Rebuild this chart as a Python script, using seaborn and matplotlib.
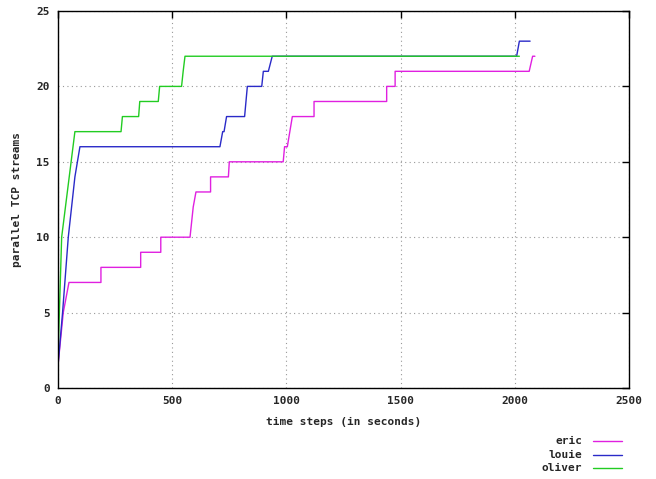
import pandas as pd
import matplotlib
matplotlib.use("Agg")
import matplotlib.pyplot as plt
import seaborn as sns

# valeurs (temps en secondes, nombre de flux TCP)
eric_t = [0, 23, 48, 188, 188, 362, 362, 450, 450, 578, 592, 604, 668, 668, 746, 750,
          986, 992, 1004, 1026, 1121, 1121, 1439, 1439, 1476, 1476, 2063, 2078, 2088]
eric_n = [1.5, 5, 7, 7, 8, 8, 9, 9, 10, 10, 12, 13, 13, 14, 14, 15,
          15, 16, 16, 18, 18, 19, 19, 20, 20, 21, 21, 22, 22]

louie_t = [0, 20, 45, 74, 96, 709, 721, 727, 738, 817, 829, 892, 899, 921, 938, 2008, 2020, 2067]
louie_n = [1.5, 5, 10, 14, 16, 16, 17, 17, 18, 18, 20, 20, 21, 21, 22, 22, 23, 23]

oliver_t = [0, 16, 74, 276, 282, 353, 358, 439, 445, 541, 548, 556, 2020]
oliver_n = [2, 10, 17, 17, 18, 18, 19, 19, 20, 20, 21, 22, 22]

noms = ["eric", "louie", "oliver"]
couleurs = {"eric": "#e020e0", "louie": "#2a2ac8", "oliver": "#22cc22"}

frames = []
for nom, t, n in zip(noms, [eric_t, louie_t, oliver_t], [eric_n, louie_n, oliver_n]):
    frames.append(pd.DataFrame({"t": t, "n": n, "serie": nom, "ordre": range(len(t))}))
df = pd.concat(frames, ignore_index=True)

sns.set_style("white")
plt.rcParams["font.family"] = ["DejaVu Sans Mono"]
plt.rcParams["font.weight"] = "bold"

fig = plt.figure(figsize=(6.56, 4.79), dpi=100)
ax = fig.add_axes([58 / 656, 91 / 479, 571 / 656, 377 / 479])

sns.lineplot(data=df, x="t", y="n", hue="serie", palette=couleurs, sort=False,
             estimator=None, units="serie", linewidth=1.0, ax=ax, legend=False)

ax.set_xlim(0, 2500)
ax.set_ylim(0, 25)
ax.set_xticks(range(0, 2501, 500))
ax.set_yticks(range(0, 26, 5))
ax.grid(True, linestyle=(0, (1, 3)), color="#999999", linewidth=0.8)
ax.tick_params(direction="in", length=5, top=True, right=True, labelsize=8,
               pad=6, width=1, color="black")
for s in ax.spines.values():
    s.set_color("black")
    s.set_linewidth(1)
ax.set_xlabel("time steps (in seconds)", fontsize=8, fontweight="bold", labelpad=8)
ax.set_ylabel("parallel TCP streams", fontsize=8, fontweight="bold", labelpad=10)

# légende à la manière de gnuplot, sous le graphique
for i, nom in enumerate(noms):
    y = 1 - (441 + 13.5 * i) / 479
    fig.text(582 / 656, y, nom, ha="right", va="center", fontsize=8, fontweight="bold")
    fig.add_artist(plt.Line2D([593 / 656, 622 / 656], [y, y], color=couleurs[nom],
                              linewidth=1.0, transform=fig.transFigure))

fig.savefig("out.png", dpi=100)
